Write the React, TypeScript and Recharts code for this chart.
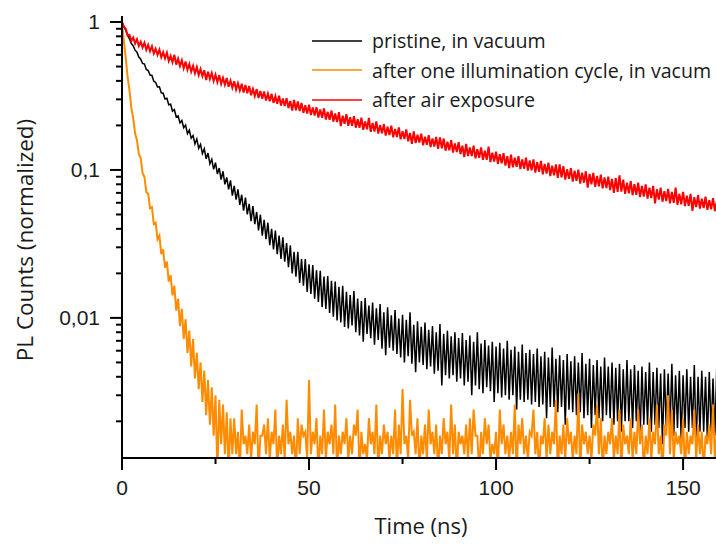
import React from 'react';
import { LineChart, Line, XAxis, YAxis, Legend, Label } from 'recharts';

// Time grid (ns): each sample index i holds an upper reading at t=i and a lower reading at t=i+0.5
const timeNs: number[] = Array.from({ length: 160 }, (_, i) => i);

const seriesNames = ['pristine, in vacuum', 'after one illumination cycle, in vacum', 'after air exposure'];
const seriesColors = ['#000000', '#ff8c00', '#ff0000'];

const blackHi = [
  1.0, 0.88, 0.77, 0.69, 0.625, 0.56, 0.52, 0.47, 0.435, 0.39,
  0.365, 0.33, 0.305, 0.278, 0.256, 0.232, 0.216, 0.201, 0.186, 0.171,
  0.162, 0.149, 0.139, 0.13, 0.118, 0.112, 0.103, 0.098, 0.089, 0.085,
  0.078, 0.074, 0.068, 0.065, 0.059, 0.057, 0.052, 0.05, 0.046, 0.044,
  0.04, 0.039, 0.036, 0.035, 0.032, 0.031, 0.028, 0.028, 0.025, 0.025,
  0.023, 0.0228, 0.021, 0.0208, 0.019, 0.0192, 0.0178, 0.0176, 0.0162, 0.0165,
  0.015, 0.0143, 0.0152, 0.0135, 0.013, 0.0136, 0.0121, 0.0127, 0.0116, 0.0124,
  0.0109, 0.0118, 0.0104, 0.0113, 0.0099, 0.0105, 0.0097, 0.0109, 0.009, 0.0095,
  0.0087, 0.0093, 0.0083, 0.0088, 0.008, 0.0091, 0.0078, 0.0082, 0.0075, 0.008,
  0.0073, 0.0079, 0.0071, 0.0076, 0.0069, 0.008, 0.0067, 0.0071, 0.0065, 0.0069,
  0.0064, 0.0068, 0.0062, 0.007, 0.0061, 0.0064, 0.0059, 0.0066, 0.0058, 0.0061,
  0.0057, 0.0062, 0.0055, 0.0059, 0.0054, 0.0063, 0.0053, 0.0056, 0.0052, 0.0057,
  0.0051, 0.0055, 0.005, 0.0058, 0.0049, 0.0053, 0.0048, 0.0052, 0.0047, 0.0054,
  0.0047, 0.005, 0.0046, 0.0049, 0.0045, 0.0052, 0.0045, 0.0048, 0.0044, 0.0047,
  0.0043, 0.005, 0.0043, 0.0046, 0.0042, 0.0045, 0.0042, 0.0049, 0.0041, 0.0044,
  0.0041, 0.0045, 0.004, 0.0048, 0.004, 0.0044, 0.004, 0.0043, 0.0039, 0.0046,
];
const blackLo = [
  0.93, 0.81, 0.715, 0.645, 0.58, 0.525, 0.478, 0.438, 0.398, 0.364,
  0.332, 0.302, 0.276, 0.25, 0.228, 0.208, 0.193, 0.176, 0.164, 0.15,
  0.14, 0.129, 0.119, 0.11, 0.101, 0.094, 0.086, 0.08, 0.074, 0.067,
  0.063, 0.058, 0.053, 0.05, 0.045, 0.043, 0.039, 0.036, 0.034, 0.031,
  0.029, 0.027, 0.025, 0.024, 0.022, 0.02, 0.019, 0.0172, 0.0165, 0.015,
  0.0145, 0.0135, 0.0128, 0.0118, 0.0115, 0.0108, 0.0102, 0.0096, 0.0093, 0.0087,
  0.0085, 0.0089, 0.008, 0.0076, 0.0069, 0.0078, 0.0073, 0.0066, 0.0071, 0.0062,
  0.0056, 0.0063, 0.006, 0.0057, 0.0054, 0.005, 0.0055, 0.0049, 0.0043, 0.005,
  0.0048, 0.0045, 0.0047, 0.0042, 0.0044, 0.0035, 0.0041, 0.0039, 0.0041, 0.0037,
  0.0039, 0.0035, 0.0037, 0.003, 0.0035, 0.0033, 0.0031, 0.0034, 0.0032, 0.0027,
  0.0031, 0.0029, 0.003, 0.0028, 0.003, 0.0024, 0.0028, 0.0027, 0.0028, 0.0026,
  0.0027, 0.0025, 0.0026, 0.0021, 0.0025, 0.0025, 0.0023, 0.0025, 0.0019, 0.0024,
  0.0023, 0.0022, 0.0023, 0.0021, 0.0022, 0.0018, 0.0022, 0.0021, 0.002, 0.0022,
  0.0021, 0.0019, 0.002, 0.0017, 0.002, 0.002, 0.0018, 0.002, 0.0015, 0.0019,
  0.0019, 0.0017, 0.0019, 0.0018, 0.0014, 0.0018, 0.0018, 0.0016, 0.0018, 0.0015,
  0.0018, 0.0017, 0.0018, 0.0013, 0.0017, 0.0017, 0.0015, 0.0017, 0.0016, 0.0014,
];

const orangeHi = [
  1.0, 0.57, 0.345, 0.224, 0.159, 0.121, 0.09, 0.069, 0.056, 0.044,
  0.036, 0.029, 0.024, 0.0195, 0.0165, 0.0135, 0.0115, 0.0098, 0.0082, 0.0072,
  0.0058, 0.005, 0.0044, 0.0038, 0.0034, 0.003, 0.0028, 0.0026, 0.0023, 0.0021,
  0.0021, 0.0017, 0.0024, 0.0016, 0.0019, 0.0017, 0.0026, 0.0016, 0.0019, 0.0021,
  0.0017, 0.0024, 0.0016, 0.0019, 0.0028, 0.0017, 0.0016, 0.0021, 0.0019, 0.0017,
  0.0038, 0.0017, 0.0021, 0.0016, 0.0024, 0.0017, 0.0019, 0.0026, 0.0016, 0.0017,
  0.0021, 0.0016, 0.0019, 0.0024, 0.0017, 0.0014, 0.0021, 0.0017, 0.0026, 0.0016,
  0.0019, 0.0017, 0.0016, 0.0024, 0.0019, 0.0033, 0.0016, 0.0028, 0.0017, 0.0021,
  0.0016, 0.0019, 0.0024, 0.0017, 0.0019, 0.0016, 0.0021, 0.0017, 0.0026, 0.0019,
  0.0017, 0.0016, 0.0019, 0.0021, 0.0024, 0.0016, 0.0017, 0.0021, 0.0019, 0.0014,
  0.0017, 0.0024, 0.0019, 0.0016, 0.0017, 0.0026, 0.0019, 0.0021, 0.0016, 0.0017,
  0.0024, 0.0017, 0.0016, 0.0021, 0.0019, 0.0017, 0.0028, 0.0016, 0.0019, 0.0021,
  0.0017, 0.0016, 0.0031, 0.0019, 0.0017, 0.0016, 0.0019, 0.0026, 0.0021, 0.0016,
  0.0017, 0.0021, 0.0016, 0.0024, 0.0019, 0.0016, 0.0021, 0.0017, 0.0024, 0.0019,
  0.0016, 0.0021, 0.0017, 0.0026, 0.0016, 0.0019, 0.003, 0.0024, 0.0017, 0.0016,
  0.0021, 0.0017, 0.0016, 0.0024, 0.0019, 0.0017, 0.0016, 0.0019, 0.0026, 0.0017,
];
const orangeLo = [
  0.74, 0.425, 0.262, 0.176, 0.128, 0.095, 0.071, 0.055, 0.043, 0.034,
  0.027, 0.0218, 0.0176, 0.0142, 0.0112, 0.0088, 0.0072, 0.0058, 0.0047, 0.0039,
  0.0033, 0.0027, 0.0022, 0.0019, 0.0016, 0.0009, 0.0014, 0.0012, 0.0009, 0.0012,
  0.0012, 0.0009, 0.0014, 0.0012, 0.0011, 0.0014, 0.0009, 0.0016, 0.0012, 0.0011,
  0.0014, 0.0009, 0.0012, 0.0011, 0.0014, 0.0012, 0.0009, 0.0012, 0.0016, 0.0011,
  0.0012, 0.0014, 0.0009, 0.0012, 0.0011, 0.0014, 0.0012, 0.0009, 0.0012, 0.0014,
  0.0011, 0.0012, 0.0016, 0.0009, 0.0012, 0.0011, 0.0014, 0.0012, 0.0009, 0.0012,
  0.0014, 0.0011, 0.0012, 0.0009, 0.0012, 0.0014, 0.0011, 0.0016, 0.0012, 0.0009,
  0.0012, 0.0011, 0.0014, 0.0012, 0.0009, 0.0012, 0.0014, 0.0011, 0.0012, 0.0009,
  0.0014, 0.0012, 0.0011, 0.0012, 0.0016, 0.0009, 0.0012, 0.0014, 0.0011, 0.0012,
  0.0009, 0.0014, 0.0012, 0.0011, 0.0012, 0.0009, 0.0014, 0.0012, 0.0011, 0.0016,
  0.0012, 0.0009, 0.0014, 0.0011, 0.0012, 0.0014, 0.0009, 0.0012, 0.0011, 0.0014,
  0.0011, 0.0012, 0.0009, 0.0014, 0.0012, 0.0011, 0.0016, 0.0012, 0.0009, 0.0012,
  0.0014, 0.0011, 0.0012, 0.0009, 0.0014, 0.0012, 0.0011, 0.0012, 0.0014, 0.0009,
  0.0012, 0.0011, 0.0014, 0.0012, 0.0009, 0.0016, 0.0012, 0.0011, 0.0014, 0.0012,
  0.0009, 0.0012, 0.0014, 0.0011, 0.0012, 0.0009, 0.0014, 0.0012, 0.0011, 0.0012,
];

const redHi = [
  1.0, 0.9, 0.82, 0.785, 0.765, 0.735, 0.725, 0.7, 0.685, 0.66,
  0.65, 0.625, 0.62, 0.59, 0.6, 0.565, 0.55, 0.54, 0.52, 0.505,
  0.495, 0.48, 0.472, 0.462, 0.452, 0.44, 0.437, 0.42, 0.418, 0.402,
  0.398, 0.386, 0.383, 0.375, 0.37, 0.353, 0.352, 0.342, 0.339, 0.328,
  0.327, 0.315, 0.318, 0.304, 0.305, 0.293, 0.297, 0.29, 0.284, 0.274,
  0.276, 0.264, 0.266, 0.256, 0.261, 0.247, 0.252, 0.241, 0.246, 0.233,
  0.238, 0.227, 0.231, 0.22, 0.226, 0.213, 0.225, 0.208, 0.213, 0.201,
  0.204, 0.196, 0.199, 0.189, 0.194, 0.183, 0.188, 0.178, 0.182, 0.173,
  0.176, 0.168, 0.172, 0.163, 0.167, 0.166, 0.163, 0.155, 0.159, 0.151,
  0.154, 0.146, 0.15, 0.142, 0.146, 0.138, 0.142, 0.135, 0.144, 0.131,
  0.133, 0.128, 0.13, 0.124, 0.127, 0.121, 0.124, 0.118, 0.121, 0.116,
  0.118, 0.113, 0.115, 0.11, 0.112, 0.107, 0.109, 0.109, 0.106, 0.101,
  0.103, 0.099, 0.1005, 0.096, 0.098, 0.094, 0.0955, 0.091, 0.093, 0.089,
  0.09, 0.087, 0.088, 0.092, 0.086, 0.082, 0.084, 0.08, 0.082, 0.078,
  0.08, 0.076, 0.078, 0.074, 0.076, 0.072, 0.0745, 0.071, 0.076, 0.069,
  0.071, 0.067, 0.069, 0.0655, 0.0675, 0.064, 0.066, 0.0625, 0.0645, 0.0615,
];
const redLo = [
  0.93, 0.81, 0.745, 0.715, 0.69, 0.672, 0.65, 0.635, 0.612, 0.6,
  0.578, 0.568, 0.545, 0.535, 0.515, 0.505, 0.487, 0.476, 0.462, 0.45,
  0.438, 0.43, 0.405, 0.412, 0.4, 0.393, 0.382, 0.377, 0.365, 0.36,
  0.35, 0.345, 0.334, 0.33, 0.32, 0.316, 0.306, 0.303, 0.295, 0.291,
  0.284, 0.28, 0.272, 0.27, 0.262, 0.252, 0.253, 0.25, 0.243, 0.241,
  0.235, 0.233, 0.226, 0.225, 0.219, 0.218, 0.212, 0.211, 0.198, 0.205,
  0.199, 0.199, 0.193, 0.193, 0.187, 0.188, 0.181, 0.182, 0.176, 0.177,
  0.171, 0.172, 0.166, 0.167, 0.161, 0.162, 0.156, 0.15, 0.152, 0.153,
  0.147, 0.148, 0.143, 0.144, 0.139, 0.14, 0.135, 0.136, 0.131, 0.132,
  0.128, 0.122, 0.124, 0.124, 0.12, 0.121, 0.117, 0.117, 0.113, 0.114,
  0.11, 0.111, 0.107, 0.103, 0.104, 0.105, 0.1015, 0.102, 0.099, 0.0995,
  0.096, 0.097, 0.0935, 0.0945, 0.091, 0.092, 0.0885, 0.089, 0.086, 0.087,
  0.0835, 0.0845, 0.081, 0.082, 0.076, 0.08, 0.077, 0.0775, 0.075, 0.0755,
  0.073, 0.07, 0.071, 0.0715, 0.069, 0.0695, 0.0675, 0.068, 0.0655, 0.066,
  0.064, 0.0645, 0.0595, 0.063, 0.061, 0.0615, 0.0595, 0.06, 0.058, 0.0585,
  0.057, 0.0572, 0.053, 0.0562, 0.0548, 0.0552, 0.0538, 0.0542, 0.0528, 0.0532,
];

const xTicks = [0, 25, 50, 75, 100, 125, 150];
const xMajor = [0, 50, 100, 150];
const yTicks = [
  0.002, 0.003, 0.004, 0.005, 0.006, 0.007, 0.008, 0.009,
  0.01, 0.02, 0.03, 0.04, 0.05, 0.06, 0.07, 0.08, 0.09,
  0.1, 0.2, 0.3, 0.4, 0.5, 0.6, 0.7, 0.8, 0.9, 1,
];
const yMajor = [0.01, 0.1, 1];
const yMajorLabels: Record<string, string> = { '0.01': '0,01', '0.1': '0,1', '1': '1' };

const data: { t: number; black: number; orange: number; red: number }[] = [];
timeNs.forEach((t, i) => {
  data.push({ t, black: blackHi[i], orange: orangeHi[i], red: redHi[i] });
  data.push({ t: t + 0.5, black: blackLo[i], orange: orangeLo[i], red: redLo[i] });
});

const tickFont = '"Liberation Sans", Arial, sans-serif';
const titleFont = '"Open Sans", "Noto Sans", sans-serif';

const YTick = (props: any) => {
  const { x, y, payload } = props;
  const v = payload.value;
  const major = yMajor.includes(v);
  return (
    <g>
      <line x1={x} x2={x - (major ? 12 : 6)} y1={y} y2={y} stroke="#000" strokeWidth={2} />
      {major && (
        <text x={x - 22} y={y + 7} textAnchor="end" fontFamily={tickFont} fontSize={21} fill="#1a1a1a">
          {yMajorLabels[String(v)]}
        </text>
      )}
    </g>
  );
};

const XTick = (props: any) => {
  const { x, y, payload } = props;
  const v = payload.value;
  const major = xMajor.includes(v);
  return (
    <g>
      <line x1={x} x2={x} y1={y} y2={y + (major ? 12 : 6)} stroke="#000" strokeWidth={2} />
      {major && (
        <text x={x} y={y + 37} textAnchor="middle" fontFamily={tickFont} fontSize={21} fill="#1a1a1a">
          {String(v)}
        </text>
      )}
    </g>
  );
};

const LegendBox = () => (
  <div style={{ fontFamily: titleFont, fontSize: 19.6, color: '#1a1a1a' }}>
    {seriesNames.map((name, i) => (
      <div key={name} style={{ display: 'flex', alignItems: 'center', height: 29.5, whiteSpace: 'nowrap' }}>
        <svg width={50} height={4} style={{ marginRight: 10 }}>
          <line x1={0} x2={50} y1={2} y2={2} stroke={seriesColors[i]} strokeWidth={1.5} />
        </svg>
        <span>{name}</span>
      </div>
    ))}
  </div>
);

export default function App() {
  return (
    <div style={{ position: 'absolute', left: 0, top: 0, background: '#fff' }}>
      <LineChart width={716} height={547} data={data} margin={{ top: 16, right: 0, bottom: 0, left: 0 }}>
        <XAxis
          xAxisId="top"
          orientation="top"
          dataKey="t"
          type="number"
          domain={[0, 158.8]}
          allowDataOverflow
          height={0}
          tick={false}
          tickLine={false}
          axisLine={{ stroke: '#000', strokeWidth: 2 }}
        />
        <XAxis
          dataKey="t"
          type="number"
          domain={[0, 158.8]}
          allowDataOverflow
          ticks={xTicks}
          interval={0}
          tick={<XTick />}
          tickSize={0}
          tickMargin={0}
          tickLine={false}
          axisLine={{ stroke: '#000', strokeWidth: 2 }}
          height={89}
        >
          <Label
            content={(p: any) => {
              const vb = p.viewBox || { x: 122, y: 458, width: 594 };
              return (
                <text x={vb.x + vb.width / 2 + 2} y={vb.y + 76} textAnchor="middle" fontFamily={titleFont} fontSize={22} fill="#1a1a1a">
                  Time (ns)
                </text>
              );
            }}
          />
        </XAxis>
        <YAxis
          type="number"
          scale="log"
          domain={[0.00113, 1.098]}
          allowDataOverflow
          ticks={yTicks}
          interval={0}
          tick={<YTick />}
          tickSize={0}
          tickMargin={0}
          tickLine={false}
          axisLine={{ stroke: '#000', strokeWidth: 2 }}
          width={122}
        >
          <Label
            content={(p: any) => {
              const vb = p.viewBox || { x: 0, y: 16, height: 442 };
              const cx = 33;
              const cy = vb.y + vb.height / 2 + 3;
              return (
                <text x={cx} y={cy} transform={`rotate(-90 ${cx} ${cy})`} textAnchor="middle" fontFamily={titleFont} fontSize={22.5} fill="#1a1a1a">
                  PL Counts (normalized)
                </text>
              );
            }}
          />
        </YAxis>
        <Legend
          layout="horizontal"
          verticalAlign="middle"
          align="center"
          content={() => <LegendBox />}
          wrapperStyle={{ position: 'absolute', left: 312, top: 26, width: 404, height: 90 }}
        />
        <Line type="linear" dataKey="black" stroke={seriesColors[0]} strokeWidth={1.5} dot={false} isAnimationActive={false} />
        <Line type="linear" dataKey="orange" stroke={seriesColors[1]} strokeWidth={2} dot={false} isAnimationActive={false} />
        <Line type="linear" dataKey="red" stroke={seriesColors[2]} strokeWidth={2} dot={false} isAnimationActive={false} />
      </LineChart>
    </div>
  );
}
